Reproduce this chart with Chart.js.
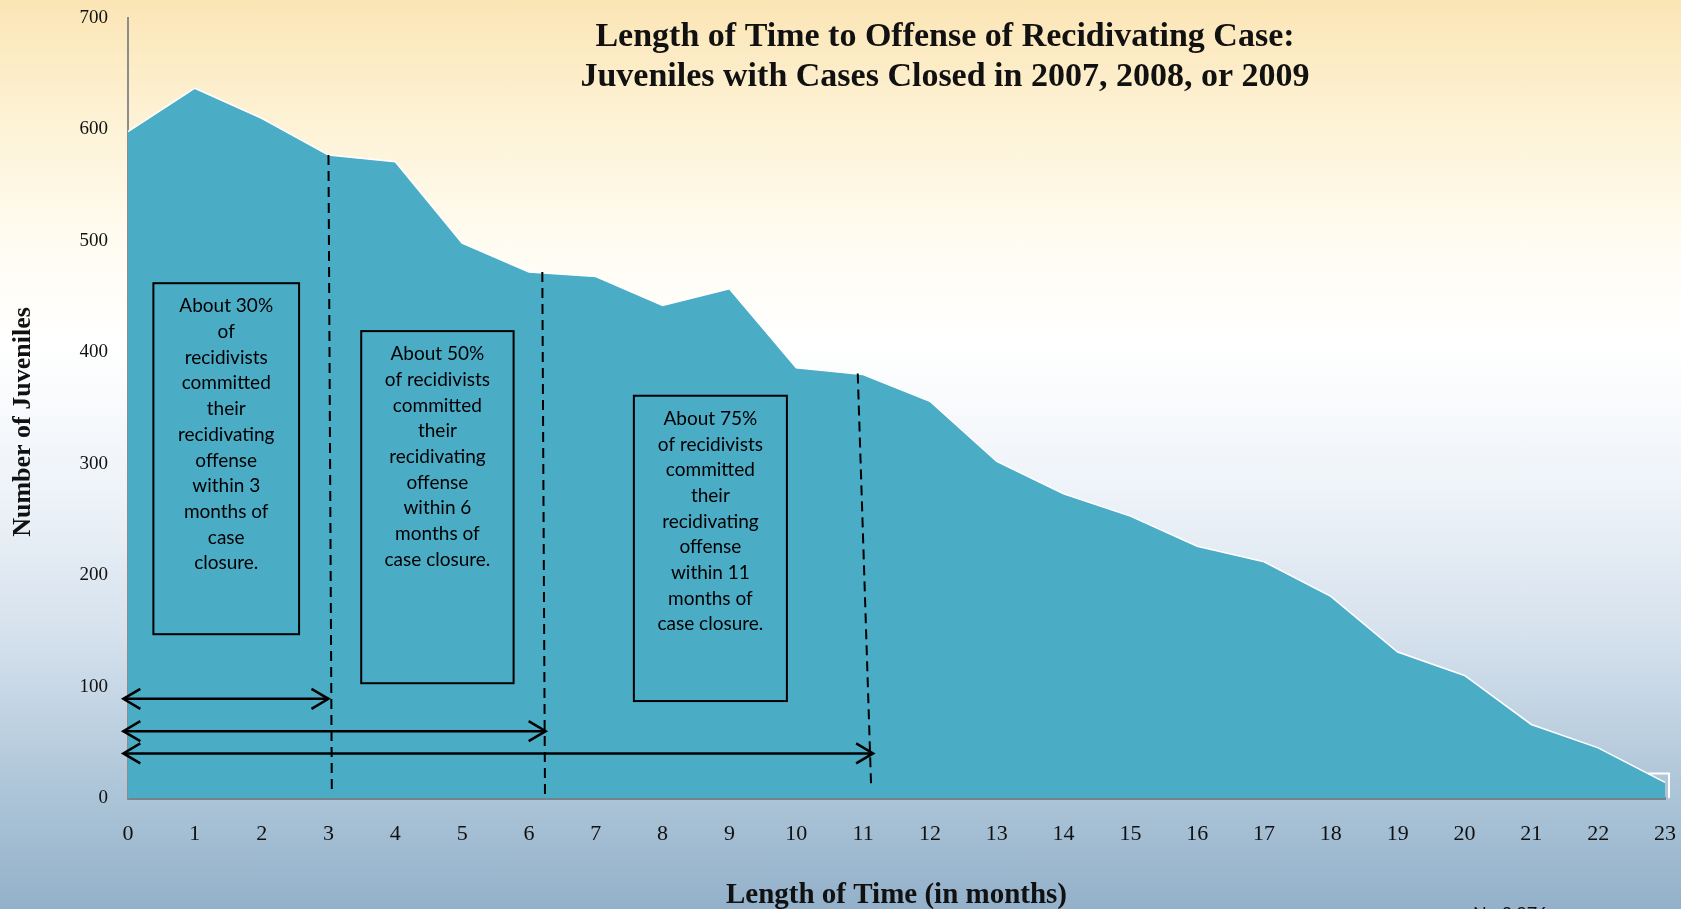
<!DOCTYPE html>
<html>
<head>
<meta charset="utf-8">
<title>Length of Time to Offense of Recidivating Case</title>
<script src="https://cdn.jsdelivr.net/npm/chart.js@4.4.1/dist/chart.umd.min.js"></script>
<style>
  html, body { margin: 0; padding: 0; }
  body {
    width: 1681px; height: 909px; overflow: hidden;
    background: linear-gradient(to bottom, #fbe5b5 0%, #fdf1d2 12%, #fffcf2 27%, #ffffff 38%, #eef3f9 54%, #d5e1ed 70%, #adc5d8 87%, #93b1ca 100%);
  }
  #wrap { position: relative; width: 1681px; height: 909px; }
</style>
</head>
<body>
<div id="wrap"><canvas id="chart" width="1681" height="909"></canvas></div>
<script>
// months since case closure
const months = ["0", "1", "2", "3", "4", "5", "6", "7", "8", "9", "10", "11",
                "12", "13", "14", "15", "16", "17", "18", "19", "20", "21", "22", "23"];
// number of juveniles whose recidivating offense fell at that month
const juveniles = [598, 637, 610, 577, 571, 498, 472, 468, 442, 457, 386, 380,
                   356, 302, 273, 253, 226, 212, 181, 131, 110, 66, 45, 14];
const yTicks = [0, 100, 200, 300, 400, 500, 600, 700];

const note30 = ["About 30%", "of", "recidivists", "committed", "their", "recidivating",
                "offense", "within 3", "months of", "case", "closure."];
const note50 = ["About 50%", "of recidivists", "committed", "their", "recidivating",
                "offense", "within 6", "months of", "case closure."];
const note75 = ["About 75%", "of recidivists", "committed", "their", "recidivating",
                "offense", "within 11", "months of", "case closure."];

// annotation placement, in chart units (months / juveniles)
const boxes = [
  { from: 0.38, to: 2.56, top: 462, bottom: 147, lines: note30 },
  { from: 3.49, to: 5.77, top: 419, bottom: 103, lines: note50 },
  { from: 7.57, to: 9.86, top: 361, bottom: 87, lines: note75 }
];
const cutoffs = [
  { xTop: 3.0, xBottom: 3.05, top: 577, bottom: 4 },
  { xTop: 6.2, xBottom: 6.24, top: 472, bottom: 1 },
  { xTop: 10.92, xBottom: 11.12, top: 381, bottom: 11 }
];
const arrows = [
  { y: 89, from: -0.07, to: 3.0 },
  { y: 60, from: -0.07, to: 6.25 },
  { y: 40, from: -0.07, to: 11.15 }
];

const serif = '"Liberation Serif", "DejaVu Serif", serif';
const sans = 'Lato, "Open Sans", sans-serif';

function chevron(ctx, tipX, tipY, dir) {
  ctx.beginPath();
  ctx.moveTo(tipX + dir * 17, tipY - 10);
  ctx.lineTo(tipX, tipY);
  ctx.lineTo(tipX + dir * 17, tipY + 10);
  ctx.stroke();
}

const notesPlugin = {
  id: 'notes',
  afterDatasetsDraw(chart) {
    const { ctx, scales: { x, y } } = chart;
    ctx.save();
    ctx.strokeStyle = '#000';

    // dashed cut-off lines
    ctx.lineWidth = 2;
    ctx.setLineDash([10, 6]);
    cutoffs.forEach(c => {
      ctx.beginPath();
      ctx.moveTo(x.getPixelForValue(c.xTop), y.getPixelForValue(c.top));
      ctx.lineTo(x.getPixelForValue(c.xBottom), y.getPixelForValue(c.bottom));
      ctx.stroke();
    });
    ctx.setLineDash([]);

    // double arrows
    ctx.lineWidth = 2.5;
    arrows.forEach(a => {
      const py = y.getPixelForValue(a.y);
      const x0 = x.getPixelForValue(a.from);
      const x1 = x.getPixelForValue(a.to);
      ctx.beginPath();
      ctx.moveTo(x0, py);
      ctx.lineTo(x1, py);
      ctx.stroke();
      chevron(ctx, x0, py, 1);
      chevron(ctx, x1, py, -1);
    });

    // text boxes
    ctx.lineWidth = 2;
    ctx.fillStyle = '#000';
    ctx.font = '19px ' + sans;
    ctx.textAlign = 'center';
    ctx.textBaseline = 'middle';
    boxes.forEach(b => {
      const left = x.getPixelForValue(b.from);
      const right = x.getPixelForValue(b.to);
      const top = y.getPixelForValue(b.top);
      const bottom = y.getPixelForValue(b.bottom);
      ctx.strokeRect(left, top, right - left, bottom - top);
      b.lines.forEach((t, i) => {
        ctx.fillText(t, (left + right) / 2, top + 23 + i * 25.7);
      });
    });

    // small white frame at the end of the series
    ctx.strokeStyle = '#ffffff';
    ctx.lineWidth = 2;
    ctx.beginPath();
    ctx.moveTo(x.getPixelForValue(22.75), y.getPixelForValue(22));
    ctx.lineTo(x.getPixelForValue(23.06), y.getPixelForValue(22));
    ctx.lineTo(x.getPixelForValue(23.06), y.getPixelForValue(0));
    ctx.stroke();
    ctx.restore();
  },
  afterDraw(chart) {
    const { ctx } = chart;
    ctx.save();
    ctx.fillStyle = '#111';
    ctx.textAlign = 'center';
    ctx.textBaseline = 'middle';
    ctx.font = 'bold 34px ' + serif;
    ctx.fillText('Length of Time to Offense of Recidivating Case:', 945, 37);
    ctx.fillText('Juveniles with Cases Closed in 2007, 2008, or 2009', 945, 77);

    ctx.save();
    ctx.translate(23, 422);
    ctx.rotate(-Math.PI / 2);
    ctx.font = 'bold 26px ' + serif;
    ctx.fillText('Number of Juveniles', 0, 0);
    ctx.restore();

    ctx.textAlign = 'left';
    ctx.textBaseline = 'alphabetic';
    ctx.font = '18px ' + sans;
    ctx.fillText('N= 8,876', 1473, 920);
    ctx.restore();
  }
};

new Chart(document.getElementById('chart'), {
  type: 'line',
  data: {
    labels: months,
    datasets: [{
      data: juveniles,
      fill: 'origin',
      backgroundColor: '#4bacc6',
      borderColor: '#ffffff',
      borderWidth: 1.5,
      pointRadius: 0,
      tension: 0
    }]
  },
  options: {
    responsive: false,
    animation: false,
    devicePixelRatio: 1,
    layout: { padding: { top: 18, right: 16, left: 0, bottom: 0 } },
    plugins: {
      legend: { display: false },
      tooltip: { enabled: false },
      title: { display: false }
    },
    scales: {
      x: {
        offset: false,
        grid: { display: false, drawTicks: false },
        border: { display: true, color: '#76828c', width: 3 },
        ticks: {
          padding: 23, autoSkip: false, maxRotation: 0,
          color: '#111', font: { family: serif, size: 22 }
        },
        title: {
          display: true, text: 'Length of Time (in months)', color: '#111',
          font: { family: serif, size: 29, weight: 'bold', lineHeight: 0.9 },
          padding: { top: 0, bottom: 0 }
        },
        afterFit(scale) {
          scale.height = 111;
          scale.paddingLeft = 0;
          scale.paddingRight = 0;
        }
      },
      y: {
        min: 0, max: 700,
        grid: { display: false, drawTicks: false },
        border: { display: true, color: '#8c8c8c', width: 2 },
        ticks: { padding: 20, color: '#111', font: { family: serif, size: 19 } },
        afterBuildTicks(scale) { scale.ticks = yTicks.map(v => ({ value: v })); },
        afterFit(scale) {
          scale.width = 128;
          scale.paddingTop = 0;
          scale.paddingBottom = 0;
        }
      }
    }
  },
  plugins: [notesPlugin]
});
</script>
</body>
</html>
